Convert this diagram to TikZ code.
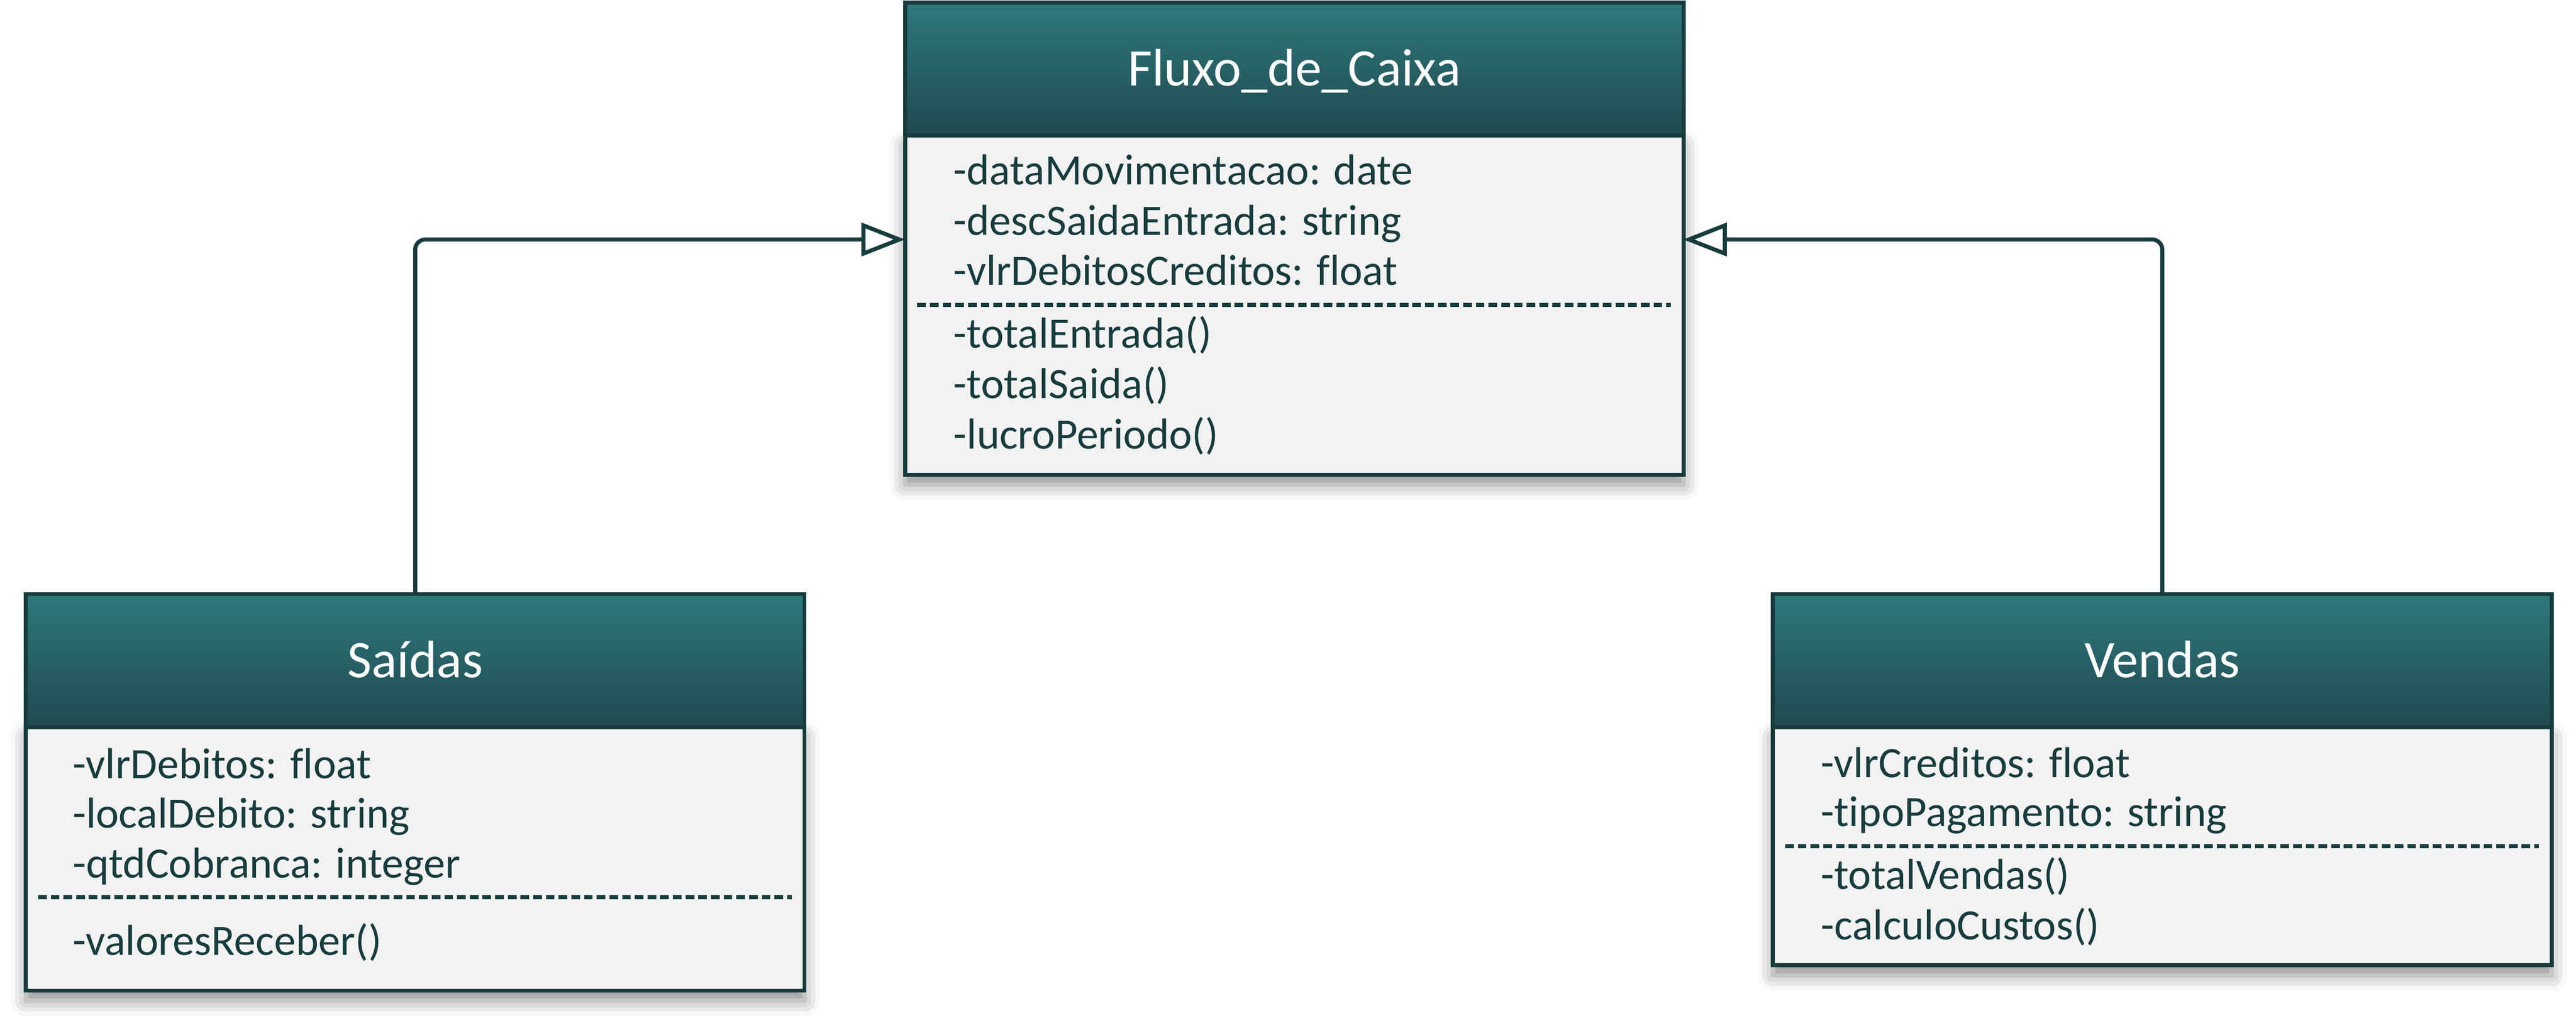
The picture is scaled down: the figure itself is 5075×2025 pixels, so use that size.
\documentclass[tikz,border=0pt]{standalone}
\usepackage{fontspec}
\setmainfont{Carlito}[Ligatures=NoCommon]
\usetikzlibrary{arrows.meta}
\usetikzlibrary{shadows.blur}
\definecolor{umlline}{RGB}{24,60,62}
\definecolor{umltop}{RGB}{46,120,124}
\definecolor{umlbot}{RGB}{31,74,79}
\definecolor{umlfill}{RGB}{242,242,242}
\newcommand{\titlefont}{\fontsize{29.6}{35}\selectfont}
\newcommand{\memberfont}{\fontsize{24.3}{29}\selectfont}
\tikzset{
  classhead/.style={draw=umlline, line width=0.08cm, top color=umltop, bottom color=umlbot,
    minimum width=15.33cm, minimum height=2.62cm, inner sep=0pt, outer sep=0pt,
    text=white, font=\titlefont, text height=0.67cm, text depth=0pt},
  classbody/.style={draw=umlline, line width=0.08cm, fill=umlfill, minimum width=15.33cm,
    inner sep=0pt, outer sep=0pt,
    blur shadow={shadow xshift=0cm, shadow yshift=-0.2cm, shadow blur radius=0.3cm, shadow opacity=45}},
  member/.style={anchor=base west, inner sep=0pt, text=umlline, font=\memberfont},
  sepline/.style={draw=umlline, line width=0.08cm, dash pattern=on 0.17cm off 0.08cm},
  inherit/.style={draw=umlline, line width=0.08cm, rounded corners=0.2cm,
    -{Triangle[length=0.86cm, width=0.65cm, fill=white]}},
}

\begin{document}
\begin{tikzpicture}[x=0.01cm,y=-0.01cm]
      \useasboundingbox (0,0) rectangle (5075,2025);
      % Fluxo_de_Caixa
      \node[classbody, anchor=north west, minimum height=6.68cm] (fluxoB) at (1783,267) {};
      \node[classhead, anchor=south west] (fluxoH) at (fluxoB.north west) {Fluxo\_de\_Caixa};
      \node[member] (f1) at (1878,364) {-dataMovimentacao: date};
      \node[member] (f2) at (1878,463) {-descSaidaEntrada: string};
      \node[member] (f3) at (1878,562) {-vlrDebitosCreditos: float};
      \draw[sepline] (1807,601) -- (3292,601);
      \node[member] (f4) at (1878,686) {-totalEntrada()};
      \node[member] (f5) at (1878,785) {-totalSaida()};
      \node[member] (f6) at (1878,885) {-lucroPeriodo()};
      % Saidas
      \node[classbody, anchor=north west, minimum height=5.19cm] (saidasB) at (51,1433) {};
      \node[classhead, anchor=south west] (saidasH) at (saidasB.north west) {Saídas};
      \node[member] (s1) at (143,1534) {-vlrDebitos: float};
      \node[member] (s2) at (143,1632) {-localDebito: string};
      \node[member] (s3) at (143,1730) {-qtdCobranca: integer};
      \draw[sepline] (75,1768) -- (1560,1768);
      \node[member] (s4) at (143,1882) {-valoresReceber()};
      % Vendas
      \node[classbody, anchor=north west, minimum height=4.69cm] (vendasB) at (3493,1433) {};
      \node[classhead, anchor=south west] (vendasH) at (vendasB.north west) {Vendas};
      \node[member] (v1) at (3587,1532) {-vlrCreditos: float};
      \node[member] (v2) at (3587,1629) {-tipoPagamento: string};
      \draw[sepline] (3517,1668) -- (5002,1668);
      \node[member] (v3) at (3587,1752) {-totalVendas()};
      \node[member] (v4) at (3587,1852) {-calculoCustos()};
      % heranca
      \coordinate (fluxoL) at (1783,472);
      \coordinate (fluxoR) at (3316,472);
      \draw[inherit] (saidasH.north) |- (fluxoL);
      \draw[inherit] (vendasH.north) |- (fluxoR);
    \end{tikzpicture}
\end{document}
